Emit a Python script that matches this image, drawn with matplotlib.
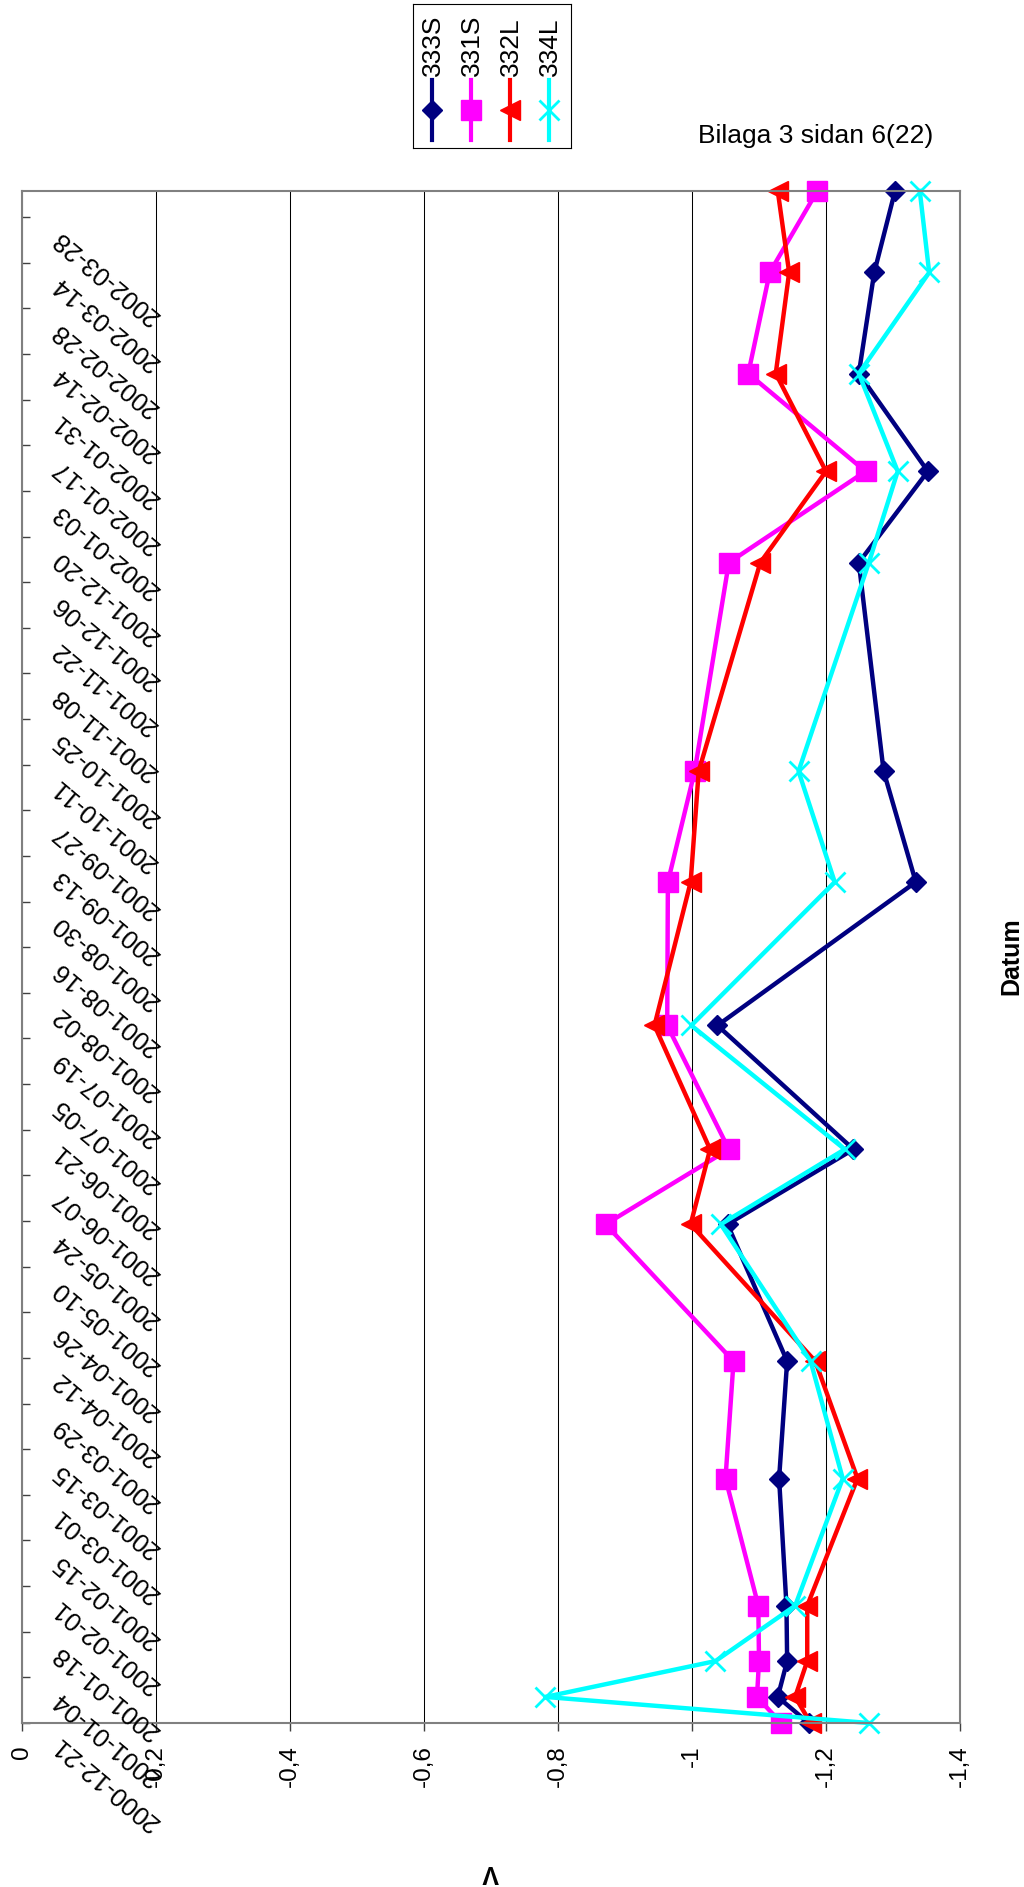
import matplotlib
matplotlib.use('Agg')
import matplotlib.pyplot as plt
import matplotlib.dates as mdates
import matplotlib.transforms as mtransforms
import numpy as np

plt.rcParams['font.family'] = ['Liberation Sans', 'DejaVu Sans']

# mätdatum och potentialer (V)
datum = np.array(['2000-12-21', '2000-12-29', '2001-01-09', '2001-01-26',
                  '2001-03-06', '2001-04-11', '2001-05-23', '2001-06-15',
                  '2001-07-23', '2001-09-05', '2001-10-09', '2001-12-12',
                  '2002-01-09', '2002-02-08', '2002-03-11', '2002-04-05'],
                 dtype='datetime64[D]')

v_333S = [-1.174, -1.128, -1.142, -1.141, -1.130, -1.142, -1.053, -1.241,
          -1.038, -1.334, -1.286, -1.249, -1.352, -1.249, -1.272, -1.303]
v_331S = [-1.133, -1.097, -1.100, -1.099, -1.050, -1.062, -0.871, -1.055,
          -0.963, -0.964, -1.004, -1.055, -1.259, -1.084, -1.116, -1.187]
v_332L = [-1.177, -1.154, -1.172, -1.172, -1.247, -1.184, -0.998, -1.027,
          -0.944, -0.998, -1.010, -1.102, -1.200, -1.125, -1.145, -1.128]
v_334L = [-1.264, -0.781, -1.035, -1.154, -1.225, -1.177, -1.043, -1.228,
          -0.999, -1.213, -1.159, -1.264, -1.307, -1.249, -1.354, -1.340]

serier = ['333S', '331S', '332L', '334L']
varden = [v_333S, v_331S, v_332L, v_334L]
farger = ['#000080', '#FF00FF', '#FF0000', '#00FFFF']
markorer = ['D', 's', '<', 'x']
storlek = [10.5, 14, 14, 14]
kantbredd = [1, 1, 1, 2]

tick_datum = ['2000-12-21', '2001-01-04', '2001-01-18', '2001-02-01',
              '2001-02-15', '2001-03-01', '2001-03-15', '2001-03-29',
              '2001-04-12', '2001-04-26', '2001-05-10', '2001-05-24',
              '2001-06-07', '2001-06-21', '2001-07-05', '2001-07-19',
              '2001-08-02', '2001-08-16', '2001-08-30', '2001-09-13',
              '2001-09-27', '2001-10-11', '2001-10-25', '2001-11-08',
              '2001-11-22', '2001-12-06', '2001-12-20', '2002-01-03',
              '2002-01-17', '2002-01-31', '2002-02-14', '2002-02-28',
              '2002-03-14', '2002-03-28']
v_ticks = [0, -0.2, -0.4, -0.6, -0.8, -1.0, -1.2, -1.4]
v_ticklabels = ['0', '-0,2', '-0,4', '-0,6', '-0,8', '-1', '-1,2', '-1,4']

W, H = 1024, 1887
fig = plt.figure(figsize=(W / 100, H / 100), dpi=100)
ax = fig.add_axes([22 / W, 1 - 1723 / H, 938 / W, 1532 / H])

for namn, v, c, m, ms, mew in zip(serier, varden, farger, markorer, storlek, kantbredd):
    ax.plot(v, datum, color=c, lw=3.2, marker=m, ms=ms, mew=mew,
            mfc=c, mec=c, clip_on=False, label=namn)

ax.set_xlim(0, -1.4)
ax.set_ylim(datum[0], datum[-1])

ax.set_xticks(v_ticks)
ax.set_xticklabels(v_ticklabels, rotation=90, va='top', ha='center', fontsize=17.5)
ax.tick_params(axis='x', direction='out', length=5.8, width=1, pad=10, color='#404040')
ax.grid(axis='x', color='black', lw=0.75)

ax.set_yticks(np.array(tick_datum, dtype='datetime64[D]'))
ax.set_yticklabels([])
ax.tick_params(axis='y', direction='in', length=5.8, width=1, color='#404040')

# datumetiketter (roterade, inne i diagrammet)
offset = mtransforms.ScaledTranslation(33 / 100, -18 / 100, fig.dpi_scale_trans)
trans = ax.get_yaxis_transform() + offset
for d in tick_datum:
    ax.text(0, mdates.date2num(np.datetime64(d)), d, transform=trans,
            rotation=140, rotation_mode='anchor', ha='right', va='center',
            fontsize=18.5)

for s in ax.spines.values():
    s.set_color('#808080')
    s.set_linewidth(1.5)

fig.text(698 / W, 1 - 136 / H, 'Bilaga 3 sidan 6(22)', fontsize=19, ha='left', va='center')
fig.text(1011 / W, 1 - 956 / H, 'Datum', rotation=90, fontweight='bold',
         fontsize=18, ha='center', va='center')
fig.text(491 / W, 1 - 1872 / H, 'V', rotation=180, fontweight='bold',
         fontsize=18, ha='center', va='center')

# legend med stående text
lax = fig.add_axes([413 / W, 1 - 148 / H, 158 / W, 144 / H])
lax.set_xlim(413, 571)
lax.set_ylim(148, 4)
lax.set_xticks([])
lax.set_yticks([])
for s in lax.spines.values():
    s.set_color('black')
    s.set_linewidth(0.8)
for i, (namn, c, m, ms, mew) in enumerate(zip(serier, farger, markorer, storlek, kantbredd)):
    x = 431.7 + 39.1 * i
    lax.plot([x, x], [80, 140], color=c, lw=3)
    lax.plot([x], [110], color=c, marker=m, ms=ms, mew=mew, mfc=c, mec=c)
    lax.text(x + 1, 76, namn, rotation=90, ha='center', va='bottom', fontsize=19)

fig.savefig('out.png', dpi=100)
